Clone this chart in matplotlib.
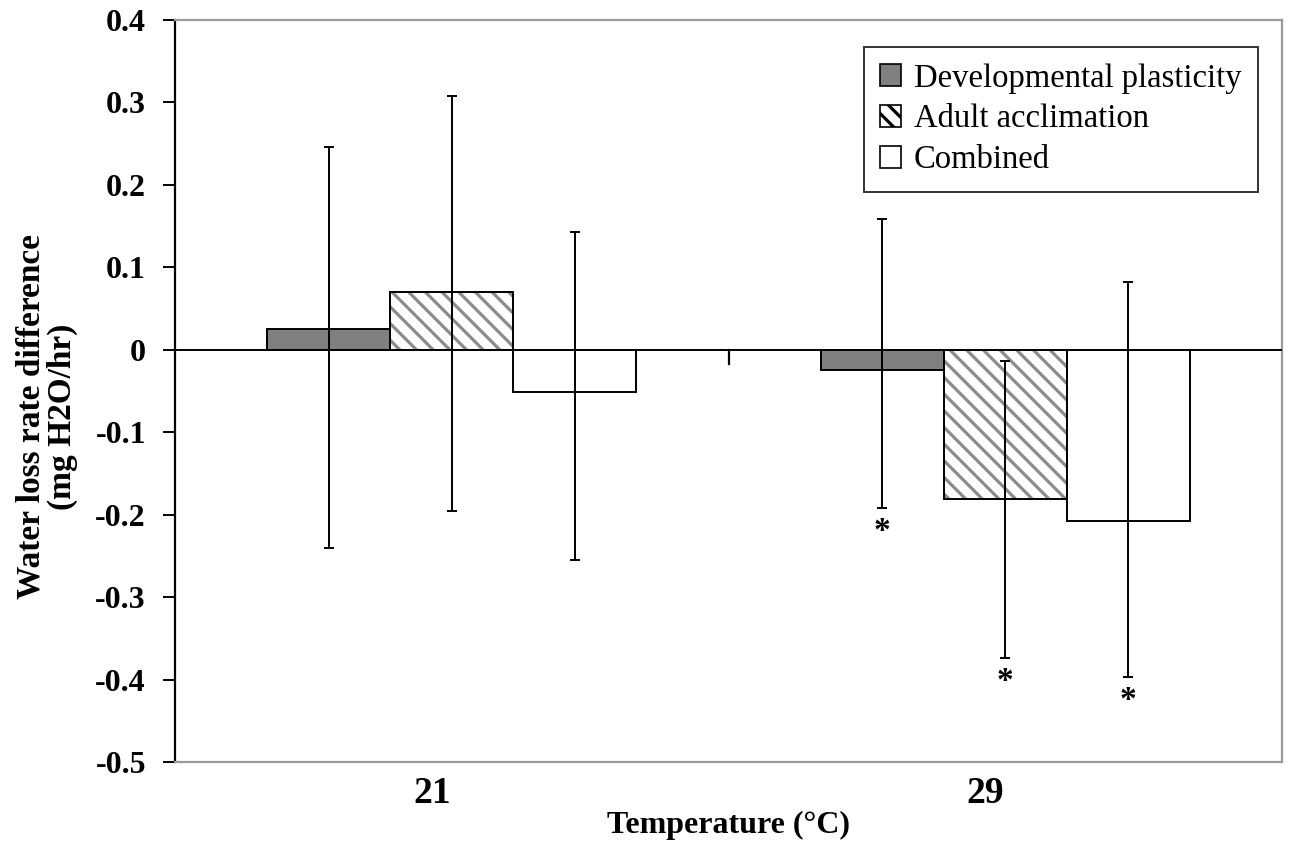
import matplotlib
matplotlib.use("Agg")
import matplotlib.pyplot as plt
import matplotlib.transforms as mtransforms
import numpy as np

# data
temps = ["21", "29"]
series = ["Developmental plasticity", "Adult acclimation", "Combined"]
means = {
    "Developmental plasticity": [0.025, -0.025],
    "Adult acclimation": [0.070, -0.181],
    "Combined": [-0.051, -0.208],
}
err_high = {
    "Developmental plasticity": [0.246, 0.159],
    "Adult acclimation": [0.308, -0.013],
    "Combined": [0.143, 0.082],
}
err_low = {
    "Developmental plasticity": [-0.240, -0.192],
    "Adult acclimation": [-0.195, -0.374],
    "Combined": [-0.255, -0.397],
}
stars = {
    "Developmental plasticity": [False, True],
    "Adult acclimation": [False, True],
    "Combined": [False, True],
}

plt.rcParams['font.family'] = ['Liberation Serif', 'DejaVu Serif']
plt.rcParams['hatch.linewidth'] = 2.3

fig = plt.figure(figsize=(12.9, 8.41), dpi=100)
ax = fig.add_axes([0.1357, 0.0939, 0.8581, 0.8823])

x = np.arange(len(temps))
width = 1 / 4.5
faces = ["#808080", "white", "white"]
hatches = [None, "\\\\", None]

handles = []
for i, name in enumerate(series):
    pos = x + (i - 1) * width
    vals = np.array(means[name])
    if hatches[i]:
        ax.bar(pos, vals, width, color="white", edgecolor="#8c8c8c",
               hatch=hatches[i], linewidth=0, zorder=2)
    ax.bar(pos, vals, width, color=faces[i] if not hatches[i] else "none",
           edgecolor="black", linewidth=1.4, zorder=3)
    lo = vals - np.array(err_low[name])
    hi = np.array(err_high[name]) - vals
    ax.errorbar(pos, vals, yerr=[lo, hi], fmt="none", ecolor="black",
                elinewidth=1.4, capsize=3.3, capthick=1.4, zorder=4)
    for j, s in enumerate(stars[name]):
        if s:
            ax.annotate("*", (pos[j], err_low[name][j]), xytext=(0, -6),
                        textcoords="offset points", ha="center", va="top",
                        fontsize=24, fontweight="bold")
    h = plt.Rectangle((0, 0), 1, 1, facecolor=faces[i] if not hatches[i] else "white",
                      edgecolor="black", linewidth=1.2,
                      hatch="\\\\" if hatches[i] else None)
    handles.append(h)

ax.axhline(0, color="black", linewidth=1.4, zorder=5)
for b in [0.5]:
    ax.plot([b, b], [0, -0.017], color="black", linewidth=1.6, zorder=5,
            clip_on=False)

ax.set_xlim(-0.5, 1.5)
ax.set_ylim(-0.5, 0.4)
ax.set_yticks(np.arange(-0.5, 0.41, 0.1))
ax.set_yticklabels(["-0.5", "-0.4", "-0.3", "-0.2", "-0.1", "0",
                    "0.1", "0.2", "0.3", "0.4"],
                   fontsize=23, fontweight="bold")
ax.set_xticks(x)
ax.set_xticklabels(temps, fontsize=27, fontweight="bold")
ax.tick_params(axis="x", length=0, pad=10)
ax.tick_params(axis="y", length=9, width=1.4, direction="out", pad=12)
shift = mtransforms.ScaledTranslation(-20 / 100, 0, fig.dpi_scale_trans)
for lab in ax.get_xticklabels():
    lab.set_transform(lab.get_transform() + shift)

for side in ["top", "right", "bottom"]:
    ax.spines[side].set_color("#9a9a9a")
    ax.spines[side].set_linewidth(1.6)
ax.spines["left"].set_color("black")
ax.spines["left"].set_linewidth(1.6)

ax.set_xlabel("Temperature (°C)", fontsize=23, fontweight="bold")
ax.xaxis.set_label_coords(0.5, -0.066)
ax.set_ylabel("Water loss rate difference\n(mg H2O/hr)", fontsize=24,
              fontweight="bold", linespacing=1.0)
ax.yaxis.set_label_coords(-0.088, 0.465)

leg = ax.legend(handles, series, loc="upper right",
                bbox_to_anchor=(0.978, 0.964), fontsize=23.5, frameon=True,
                fancybox=False, edgecolor="black", handlelength=0.62,
                handleheight=0.62, handletextpad=0.4, labelspacing=0.32,
                borderpad=0.5, borderaxespad=0)
leg.get_frame().set_linewidth(1.4)

fig.savefig("out.png", dpi=100)
